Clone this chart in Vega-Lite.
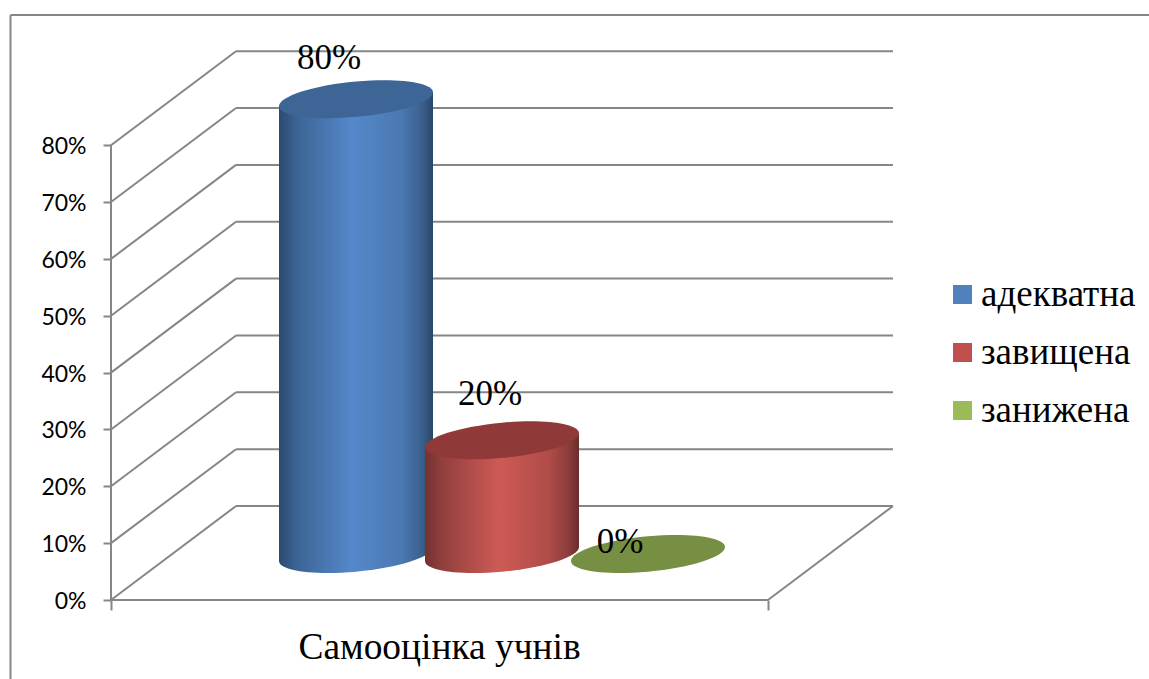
{
"$schema":"https://vega.github.io/schema/vega-lite/v6.json",
"width":1038,"height":600,
"padding":{"left":111,"top":0,"right":0,"bottom":79},
"autosize":{"type":"none"},
"background":"#ffffff",
"config":{"view":{"stroke":null}},
"datasets":{
"ratings":[{"rating":"адекватна","share":0.8},{"rating":"завищена","share":0.2},{"rating":"занижена","share":0}],
"frame":[
{"x":-15.3,"y":1.029,"x2":158,"y2":1.029},
{"x":-15.3,"y":1.029,"x2":-15.3,"y2":-0.139},
{"x":0,"y":0,"x2":0,"y2":0.8},
{"x":0,"y":0,"x2":100,"y2":0},
{"x":100,"y":0,"x2":119.03,"y2":0.1653},
{"x":0,"y":0,"x2":19.03,"y2":0.1653},{"x":19.03,"y":0.1653,"x2":119.03,"y2":0.1653},
{"x":0,"y":0.1,"x2":19.03,"y2":0.2653},{"x":19.03,"y":0.2653,"x2":119.03,"y2":0.2653},
{"x":0,"y":0.2,"x2":19.03,"y2":0.3653},{"x":19.03,"y":0.3653,"x2":119.03,"y2":0.3653},
{"x":0,"y":0.3,"x2":19.03,"y2":0.4653},{"x":19.03,"y":0.4653,"x2":119.03,"y2":0.4653},
{"x":0,"y":0.4,"x2":19.03,"y2":0.5653},{"x":19.03,"y":0.5653,"x2":119.03,"y2":0.5653},
{"x":0,"y":0.5,"x2":19.03,"y2":0.6653},{"x":19.03,"y":0.6653,"x2":119.03,"y2":0.6653},
{"x":0,"y":0.6,"x2":19.03,"y2":0.7653},{"x":19.03,"y":0.7653,"x2":119.03,"y2":0.7653},
{"x":0,"y":0.7,"x2":19.03,"y2":0.8653},{"x":19.03,"y":0.8653,"x2":119.03,"y2":0.8653},
{"x":0,"y":0.8,"x2":19.03,"y2":0.9653},{"x":19.03,"y":0.9653,"x2":119.03,"y2":0.9653}
]},
"data":{"name":"ratings"},
"resolve":{"scale":{"x":"independent"},"axis":{"x":"independent"}},
"layer":[
{"data":{"name":"frame"},
 "mark":{"type":"rule","color":"#868686","strokeWidth":2,"clip":false},
 "encoding":{
  "x":{"field":"x","type":"quantitative","scale":{"domain":[0,158],"nice":false,"zero":false},
   "axis":{"values":[0,100],"labels":false,"grid":false,"domain":false,"tickColor":"#868686","tickWidth":2,"tickSize":10,
    "title":"Самооцінка учнів","titleFont":"Liberation Serif","titleFontSize":37.4,"titleFontWeight":"normal","titleColor":"#000000","titleAnchor":"start","titleAlign":"center","titleBaseline":"alphabetic","titleX":328,"titleY":58}},
  "x2":{"field":"x2"},
  "y":{"field":"y","type":"quantitative","scale":{"domain":[0,1.0554],"nice":false,"zero":false},
   "axis":{"values":[0,0.1,0.2,0.3,0.4,0.5,0.6,0.7,0.8],"format":".0%","grid":false,"domain":false,"title":null,"tickColor":"#868686","tickWidth":2,"tickSize":8,"labelPadding":17,"labelOffset":1.5,"labelFont":"Lato","labelFontSize":23,"labelColor":"#000000"}},
  "y2":{"field":"y2"}
 }},
{"transform":[{"filter":"datum.share > 0"}],
 "mark":{"type":"bar","width":154,"yOffset":-39,"y2Offset":-53},
 "encoding":{
  "x":{"field":"rating","type":"nominal","sort":null,"scale":{"type":"point","padding":0,"domain":["адекватна","завищена","занижена"],"range":[245,537]},"axis":null},
  "y":{"field":"share","type":"quantitative"},
  "y2":{"datum":0},
  "color":{"field":"rating","type":"nominal","sort":null,
   "scale":{"domain":["адекватна","завищена","занижена"],"range":["#4f81bd","#c0504d","#9bbb59"]},
   "legend":{"title":null,"orient":"none","legendX":833,"legendY":276,"symbolType":"square","symbolSize":361,"symbolStrokeWidth":0,"labelFont":"Liberation Serif","labelFontSize":37,"labelColor":"#000000","labelOffset":0,"rowPadding":20,"padding":0}}
 }},
{"transform":[{"filter":"datum.rating === 'адекватна'"}],
 "mark":{"type":"bar","width":154,"yOffset":-39,"y2Offset":-53,
  "fill":{"gradient":"linear","x1":0,"x2":1,"y1":0,"y2":0,"stops":[{"offset":0,"color":"#2b4a70"},{"offset":0.12,"color":"#3c6595"},{"offset":0.48,"color":"#5588cb"},{"offset":0.8,"color":"#4a78b0"},{"offset":0.93,"color":"#3a5f8c"},{"offset":1,"color":"#294668"}]}},
 "encoding":{
  "x":{"field":"rating","type":"nominal","sort":null,"scale":{"type":"point","padding":0,"domain":["адекватна","завищена","занижена"],"range":[245,537]},"axis":null},
  "y":{"field":"share","type":"quantitative"},"y2":{"datum":0}}},
{"transform":[{"filter":"datum.rating === 'адекватна'"}],
 "mark":{"type":"point","filled":true,"opacity":1,"size":23716,"yOffset":-46,"strokeWidth":0,
  "shape":"M1,-.12 L1,-.0909 C1,.0358 .5523,.1792 0,.2294 C-.5523,.2796 -1,.2176 -1,.0909 L-1,-.12 Z",
  "fill":{"gradient":"linear","x1":0,"x2":1,"y1":0,"y2":0,"stops":[{"offset":0,"color":"#2b4a70"},{"offset":0.12,"color":"#3c6595"},{"offset":0.48,"color":"#5588cb"},{"offset":0.8,"color":"#4a78b0"},{"offset":0.93,"color":"#3a5f8c"},{"offset":1,"color":"#294668"}]}},
 "encoding":{
  "x":{"field":"rating","type":"nominal","sort":null,"scale":{"type":"point","padding":0,"domain":["адекватна","завищена","занижена"],"range":[245,537]},"axis":null},
  "y":{"datum":0}}},
{"transform":[{"filter":"datum.rating === 'адекватна'"}],
 "mark":{"type":"point","filled":true,"opacity":1,"size":23716,"yOffset":-46,"strokeWidth":0,
  "shape":"M-1,.12 L1,.12 L1,-.0909 L-1,.0909 Z",
  "fill":{"gradient":"linear","x1":0,"x2":1,"y1":0,"y2":0,"stops":[{"offset":0,"color":"#2b4a70"},{"offset":0.12,"color":"#3c6595"},{"offset":0.48,"color":"#5588cb"},{"offset":0.8,"color":"#4a78b0"},{"offset":0.93,"color":"#3a5f8c"},{"offset":1,"color":"#294668"}]}},
 "encoding":{
  "x":{"field":"rating","type":"nominal","sort":null,"scale":{"type":"point","padding":0,"domain":["адекватна","завищена","занижена"],"range":[245,537]},"axis":null},
  "y":{"field":"share","type":"quantitative"}}},
{"transform":[{"filter":"datum.rating === 'завищена'"}],
 "mark":{"type":"bar","width":154,"yOffset":-39,"y2Offset":-53,
  "fill":{"gradient":"linear","x1":0,"x2":1,"y1":0,"y2":0,"stops":[{"offset":0,"color":"#733230"},{"offset":0.12,"color":"#93403e"},{"offset":0.48,"color":"#ce5a56"},{"offset":0.8,"color":"#b04c49"},{"offset":0.93,"color":"#8c3d3b"},{"offset":1,"color":"#692c2a"}]}},
 "encoding":{
  "x":{"field":"rating","type":"nominal","sort":null,"scale":{"type":"point","padding":0,"domain":["адекватна","завищена","занижена"],"range":[245,537]},"axis":null},
  "y":{"field":"share","type":"quantitative"},"y2":{"datum":0}}},
{"transform":[{"filter":"datum.rating === 'завищена'"}],
 "mark":{"type":"point","filled":true,"opacity":1,"size":23716,"yOffset":-46,"strokeWidth":0,
  "shape":"M1,-.12 L1,-.0909 C1,.0358 .5523,.1792 0,.2294 C-.5523,.2796 -1,.2176 -1,.0909 L-1,-.12 Z",
  "fill":{"gradient":"linear","x1":0,"x2":1,"y1":0,"y2":0,"stops":[{"offset":0,"color":"#733230"},{"offset":0.12,"color":"#93403e"},{"offset":0.48,"color":"#ce5a56"},{"offset":0.8,"color":"#b04c49"},{"offset":0.93,"color":"#8c3d3b"},{"offset":1,"color":"#692c2a"}]}},
 "encoding":{
  "x":{"field":"rating","type":"nominal","sort":null,"scale":{"type":"point","padding":0,"domain":["адекватна","завищена","занижена"],"range":[245,537]},"axis":null},
  "y":{"datum":0}}},
{"transform":[{"filter":"datum.rating === 'завищена'"}],
 "mark":{"type":"point","filled":true,"opacity":1,"size":23716,"yOffset":-46,"strokeWidth":0,
  "shape":"M-1,.12 L1,.12 L1,-.0909 L-1,.0909 Z",
  "fill":{"gradient":"linear","x1":0,"x2":1,"y1":0,"y2":0,"stops":[{"offset":0,"color":"#733230"},{"offset":0.12,"color":"#93403e"},{"offset":0.48,"color":"#ce5a56"},{"offset":0.8,"color":"#b04c49"},{"offset":0.93,"color":"#8c3d3b"},{"offset":1,"color":"#692c2a"}]}},
 "encoding":{
  "x":{"field":"rating","type":"nominal","sort":null,"scale":{"type":"point","padding":0,"domain":["адекватна","завищена","занижена"],"range":[245,537]},"axis":null},
  "y":{"field":"share","type":"quantitative"}}},
{"mark":{"type":"point","filled":true,"opacity":1,"size":23716,"yOffset":-46,"strokeWidth":0,
  "shape":"M1,-.0909 C1,.0358 .5523,.1792 0,.2294 C-.5523,.2796 -1,.2176 -1,.0909 C-1,-.0358 -.5523,-.1792 0,-.2294 C.5523,-.2796 1,-.2176 1,-.0909Z"},
 "encoding":{
  "x":{"field":"rating","type":"nominal","sort":null,"scale":{"type":"point","padding":0,"domain":["адекватна","завищена","занижена"],"range":[245,537]},"axis":null},
  "y":{"field":"share","type":"quantitative"},
  "fill":{"field":"rating","type":"nominal","sort":null,"scale":{"domain":["адекватна","завищена","занижена"],"range":["#3d6595","#8f3a38","#778f42"]},"legend":null}}},
{"transform":[{"filter":"datum.rating === 'адекватна'"}],
 "mark":{"type":"text","font":"Liberation Serif","fontSize":35,"color":"#000000","align":"center","baseline":"alphabetic","dx":-27,"dy":-76},
 "encoding":{
  "x":{"field":"rating","type":"nominal","sort":null,"scale":{"type":"point","padding":0,"domain":["адекватна","завищена","занижена"],"range":[245,537]},"axis":null},
  "y":{"field":"share","type":"quantitative"},
  "text":{"field":"share","type":"quantitative","format":".0%"}}},
{"transform":[{"filter":"datum.rating === 'завищена'"}],
 "mark":{"type":"text","font":"Liberation Serif","fontSize":35,"color":"#000000","align":"center","baseline":"alphabetic","dx":-12,"dy":-81},
 "encoding":{
  "x":{"field":"rating","type":"nominal","sort":null,"scale":{"type":"point","padding":0,"domain":["адекватна","завищена","занижена"],"range":[245,537]},"axis":null},
  "y":{"field":"share","type":"quantitative"},
  "text":{"field":"share","type":"quantitative","format":".0%"}}},
{"transform":[{"filter":"datum.rating === 'занижена'"}],
 "mark":{"type":"text","font":"Liberation Serif","fontSize":35,"color":"#000000","align":"center","baseline":"alphabetic","dx":-28,"dy":-47},
 "encoding":{
  "x":{"field":"rating","type":"nominal","sort":null,"scale":{"type":"point","padding":0,"domain":["адекватна","завищена","занижена"],"range":[245,537]},"axis":null},
  "y":{"field":"share","type":"quantitative"},
  "text":{"field":"share","type":"quantitative","format":".0%"}}}
]
}
